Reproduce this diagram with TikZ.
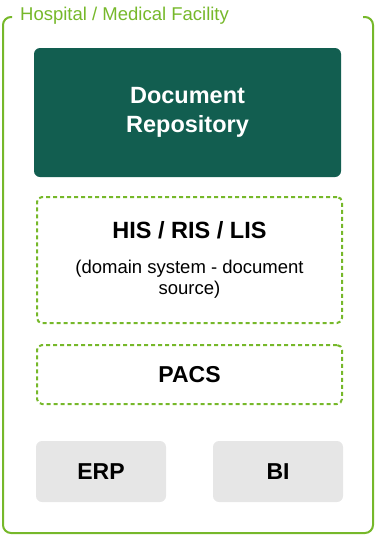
\documentclass[tikz,border=0pt]{standalone}
\usepackage{fontspec}
\setmainfont{Liberation Sans}
\definecolor{hgreen}{HTML}{76B82A}
\definecolor{repoteal}{HTML}{125E50}
\definecolor{boxgray}{HTML}{E6E6E6}
\tikzset{
  frameline/.style={draw=hgreen, line width=2pt, rounded corners=8pt},
  repobox/.style={fill=repoteal, draw=none, rounded corners=6pt, text=white,
    font=\fontsize{23.5}{29}\selectfont\bfseries, align=center},
  dashbox/.style={draw=hgreen, line width=2pt, dash pattern=on 4pt off 3pt,
    rounded corners=5pt, align=center},
  graybox/.style={fill=boxgray, draw=none, rounded corners=6pt,
    font=\fontsize{23}{26}\selectfont\bfseries},
  titletext/.style={text=hgreen, font=\fontsize{18.5}{20}\selectfont, anchor=west, inner sep=0pt}
}
\begin{document}
\begin{tikzpicture}[x=1pt,y=1pt]
\useasboundingbox (0,0) rectangle (375,-536);
% outer frame
\draw[frameline] (12,-17) -- (3,-17) -- (3,-533) -- (373,-533) -- (373,-17) -- (363,-17);
\node[titletext] (title) at (20,-16) {Hospital / Medical Facility};
% boxes
\node[repobox, minimum width=307pt, minimum height=129pt] (repo) at (187.5,-112.5)
  {Document\\Repository};
\node[dashbox, minimum width=305pt, minimum height=126pt,
  font=\fontsize{18.5}{21}\selectfont] (his) at (189.5,-260)
  {{\fontsize{23.5}{26}\selectfont\bfseries HIS / RIS / LIS}\\[14pt]
   (domain system - document\\source)};
\node[dashbox, minimum width=305pt, minimum height=59pt,
  font=\fontsize{23}{26}\selectfont\bfseries] (pacs) at (189.5,-374.5) {PACS};
\node[graybox, minimum width=130pt, minimum height=61pt] (erp) at (101,-471.5) {ERP};
\node[graybox, minimum width=130pt, minimum height=61pt] (bi) at (278,-471.5) {BI};
\end{tikzpicture}
\end{document}
